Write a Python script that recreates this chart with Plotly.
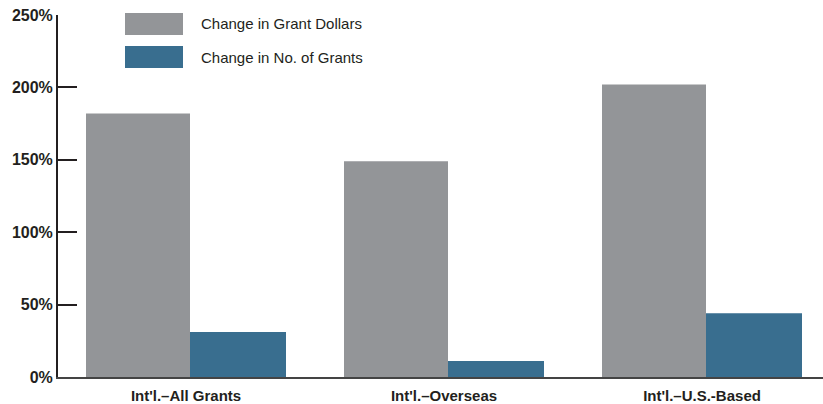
import plotly.graph_objects as go

categories = ["Int'l.–All Grants", "Int'l.–Overseas", "Int'l.–U.S.-Based"]
grant_dollars = [182, 149, 202]
num_grants = [31, 11, 44]
series_names = ["Change in Grant Dollars", "Change in No. of Grants"]
tick_vals = [0, 50, 100, 150, 200, 250]
tick_text = ["0%", "50%", "100%", "150%", "200%", "250%"]

GRAY = "#939598"
BLUE = "#396e8f"
DARK = "#231f20"

x_idx = list(range(len(categories)))
CAT_PX = 258.0

fig = go.Figure()
fig.add_trace(go.Bar(x=x_idx, y=grant_dollars, name=series_names[0],
                     width=104 / CAT_PX, offset=-100 / CAT_PX,
                     marker=dict(color=GRAY, line=dict(width=0)), showlegend=False))
fig.add_trace(go.Bar(x=x_idx, y=num_grants, name=series_names[1],
                     width=96 / CAT_PX, offset=4 / CAT_PX,
                     marker=dict(color=BLUE, line=dict(width=0)), showlegend=False))

W, H = 823, 404
L, R, T, B = 58, 0, 15, 27
x_start = -128 / CAT_PX
fig.update_layout(
    width=W, height=H,
    margin=dict(l=L, r=R, t=T, b=B),
    barmode="overlay",
    plot_bgcolor="white", paper_bgcolor="white",
    font=dict(family="Liberation Sans", color=DARK),
    xaxis=dict(
        range=[x_start, x_start + (W - L) / CAT_PX],
        tickmode="array", tickvals=x_idx, ticktext=categories,
        tickfont=dict(family="Liberation Sans Narrow, Liberation Sans", size=15,
                      color=DARK, weight="bold"),
        ticklabelstandoff=4,
        ticks="", showgrid=False, zeroline=False,
        showline=True, linecolor="#444444", linewidth=2,
    ),
    yaxis=dict(
        range=[0, 250],
        tickmode="array", tickvals=tick_vals, ticktext=tick_text,
        tickfont=dict(family="Liberation Sans Narrow, Liberation Sans", size=16,
                      color=DARK, weight="bold"),
        ticks="inside", ticklen=19, tickwidth=2, tickcolor=DARK,
        showgrid=False, zeroline=False,
        showline=True, linecolor=DARK, linewidth=2,
    ),
)

# Custom legend (large swatches as in reference)
legend_items = [(series_names[0], GRAY, 13, 35), (series_names[1], BLUE, 46, 68)]
for name, col, y0, y1 in legend_items:
    fig.add_shape(type="rect", xref="paper", yref="paper",
                  x0=(125 - L) / (W - L), x1=(183 - L) / (W - L),
                  y0=(H - B - y1) / (H - T - B), y1=(H - B - y0) / (H - T - B),
                  fillcolor=col, line=dict(width=0), layer="above")
    fig.add_annotation(text=name, xref="paper", yref="paper",
                       x=(199 - L) / (W - L), y=(H - B - (y0 + y1) / 2) / (H - T - B),
                       xanchor="left", yanchor="middle", showarrow=False,
                       font=dict(family="Liberation Sans", size=15, color=DARK))

fig.write_html("out.html")
